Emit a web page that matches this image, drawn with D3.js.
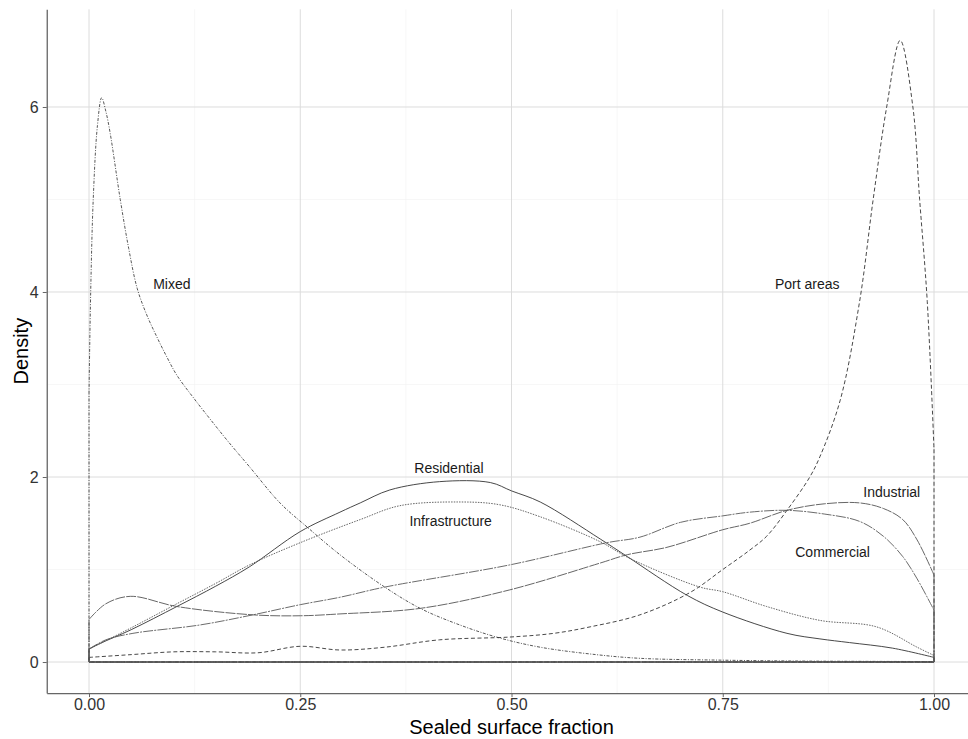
<!DOCTYPE html>
<html>
<head>
<meta charset="utf-8">
<script src="https://cdn.jsdelivr.net/npm/d3@7"></script>
<style>
  body { margin: 0; background: #fff; }
  svg { display: block; font-family: "Liberation Sans", Arial, sans-serif; }
</style>
</head>
<body>
<svg id="chart" width="968" height="739"></svg>
<script>
// ---- data ----
const xTicks = [0, 0.25, 0.5, 0.75, 1];
const xTickLabels = ["0.00", "0.25", "0.50", "0.75", "1.00"];
const yTicks = [0, 2, 4, 6];
const yTickLabels = ["0", "2", "4", "6"];

const mixedX = [0, 0.002, 0.005, 0.01, 0.015, 0.02, 0.025, 0.037, 0.047, 0.057, 0.068, 0.08, 0.092, 0.104, 0.125, 0.143, 0.165, 0.19, 0.226, 0.258, 0.297, 0.35, 0.392, 0.439, 0.486, 0.534, 0.6, 0.652, 0.75, 0.85, 1];
const mixedY = [2.9, 4.0, 5.0, 5.8, 6.1, 5.95, 5.72, 5.0, 4.47, 4.04, 3.76, 3.52, 3.3, 3.1, 2.84, 2.63, 2.38, 2.11, 1.72, 1.46, 1.16, 0.81, 0.58, 0.40, 0.26, 0.16, 0.08, 0.04, 0.02, 0.01, 0.005];

const portX = [0, 0.05, 0.1, 0.15, 0.2, 0.25, 0.297, 0.35, 0.415, 0.498, 0.55, 0.593, 0.652, 0.711, 0.75, 0.782, 0.802, 0.826, 0.853, 0.865, 0.889, 0.912, 0.928, 0.944, 0.96, 0.975, 0.983, 0.992, 1];
const portY = [0.05, 0.08, 0.11, 0.11, 0.10, 0.17, 0.13, 0.16, 0.24, 0.27, 0.31, 0.38, 0.51, 0.75, 1.0, 1.21, 1.36, 1.64, 2.0, 2.22, 2.83, 3.9, 5.0, 6.0, 6.72, 6.0, 5.0, 3.9, 2.3];

const residentialX = [0, 0.013, 0.05, 0.104, 0.15, 0.19, 0.25, 0.297, 0.321, 0.356, 0.415, 0.475, 0.5, 0.534, 0.605, 0.637, 0.708, 0.75, 0.826, 0.865, 0.9, 0.951, 1];
const residentialY = [0.14, 0.2, 0.35, 0.6, 0.82, 1.03, 1.41, 1.62, 1.72, 1.86, 1.95, 1.94, 1.85, 1.73, 1.33, 1.14, 0.72, 0.54, 0.31, 0.25, 0.21, 0.15, 0.05];

const infrastructureX = [0, 0.05, 0.104, 0.15, 0.19, 0.25, 0.321, 0.368, 0.439, 0.486, 0.534, 0.605, 0.64, 0.723, 0.75, 0.802, 0.865, 0.932, 0.98, 1];
const infrastructureY = [0.14, 0.37, 0.63, 0.85, 1.05, 1.29, 1.54, 1.69, 1.73, 1.70, 1.57, 1.30, 1.12, 0.81, 0.76, 0.60, 0.45, 0.38, 0.16, 0.07];

const industrialX = [0, 0.02, 0.049, 0.104, 0.194, 0.25, 0.297, 0.392, 0.498, 0.605, 0.637, 0.684, 0.75, 0.782, 0.826, 0.87, 0.912, 0.94, 0.963, 0.98, 1];
const industrialY = [0.46, 0.63, 0.71, 0.60, 0.51, 0.50, 0.52, 0.58, 0.78, 1.07, 1.16, 1.24, 1.43, 1.50, 1.64, 1.71, 1.72, 1.66, 1.54, 1.32, 0.94];

const commercialX = [0, 0.02, 0.052, 0.131, 0.194, 0.25, 0.297, 0.35, 0.498, 0.613, 0.652, 0.70, 0.75, 0.782, 0.826, 0.87, 0.912, 0.94, 0.963, 0.98, 1];
const commercialY = [0.14, 0.24, 0.31, 0.40, 0.51, 0.62, 0.70, 0.81, 1.05, 1.29, 1.35, 1.51, 1.58, 1.62, 1.64, 1.60, 1.52, 1.36, 1.14, 0.90, 0.56];

const seriesNames = ["Mixed", "Port areas", "Residential", "Infrastructure", "Industrial", "Commercial"];
const labelX = [0.098, 0.85, 0.426, 0.428, 0.95, 0.88];
const labelY = [4.09, 4.09, 2.1, 1.52, 1.84, 1.19];

// ---- layout ----
const svg = d3.select("#chart");
const x = d3.scaleLinear().domain([-0.05, 1.05]).range([46.75, 976.25]);
const y = d3.scaleLinear().domain([-0.336, 7.056]).range([693.1, 9.3]);

const styles = {
  "Mixed":          { dash: "3,1.5,1,1.5", color: "#444" },
  "Port areas":     { dash: "4,2.5",      color: "#333" },
  "Residential":    { dash: null,         color: "#333" },
  "Infrastructure": { dash: "1.5,1.2",    color: "#555" },
  "Industrial":     { dash: "10,1.2",     color: "#555" },
  "Commercial":     { dash: "10,1.2,2,1.2", color: "#5a5a5a" }
};

const series = [
  { name: "Mixed", xs: mixedX, ys: mixedY },
  { name: "Port areas", xs: portX, ys: portY },
  { name: "Residential", xs: residentialX, ys: residentialY },
  { name: "Infrastructure", xs: infrastructureX, ys: infrastructureY },
  { name: "Industrial", xs: industrialX, ys: industrialY },
  { name: "Commercial", xs: commercialX, ys: commercialY }
];

// grid
const g = svg.append("g");
const minorX = [0.125, 0.375, 0.625, 0.875];
const minorY = [1, 3, 5];
g.selectAll(".minx").data(minorX).join("line")
  .attr("x1", d => x(d)).attr("x2", d => x(d)).attr("y1", y.range()[1]).attr("y2", y.range()[0])
  .attr("stroke", "#f2f2f2").attr("stroke-width", 0.6);
g.selectAll(".miny").data(minorY).join("line")
  .attr("x1", x.range()[0]).attr("x2", x.range()[1]).attr("y1", d => y(d)).attr("y2", d => y(d))
  .attr("stroke", "#f2f2f2").attr("stroke-width", 0.6);
g.selectAll(".majx").data(xTicks).join("line")
  .attr("x1", d => x(d)).attr("x2", d => x(d)).attr("y1", y.range()[1]).attr("y2", y.range()[0])
  .attr("stroke", "#dcdcdc").attr("stroke-width", 1);
g.selectAll(".majy").data(yTicks).join("line")
  .attr("x1", x.range()[0]).attr("x2", x.range()[1]).attr("y1", d => y(d)).attr("y2", d => y(d))
  .attr("stroke", "#dcdcdc").attr("stroke-width", 1);

// curves
const curveLine = d3.line().x(d => x(d[0])).y(d => y(d[1])).curve(d3.curveCatmullRom.alpha(0.5));
const edgeLine = d3.line().x(d => x(d[0])).y(d => y(d[1]));

series.forEach(s => {
  const pts = s.xs.map((v, i) => [v, s.ys[i]]);
  const st = styles[s.name];
  const n = pts.length - 1;
  const edges = [[1, pts[n][1]], [1, 0], [0, 0], [0, pts[0][1]]];
  [curveLine(pts), edgeLine(edges)].forEach(dstr => {
    svg.append("path").attr("d", dstr)
      .attr("fill", "none").attr("stroke", st.color)
      .attr("stroke-width", 0.9)
      .attr("stroke-dasharray", st.dash);
  });
});

// axes
const xAxis = svg.append("g").attr("transform", `translate(0,${y.range()[0]})`)
  .call(d3.axisBottom(x).tickValues(xTicks).tickFormat((d, i) => xTickLabels[i]).tickSize(4).tickSizeOuter(0));
const yAxis = svg.append("g").attr("transform", `translate(${x.range()[0]},0)`)
  .call(d3.axisLeft(y).tickValues(yTicks).tickFormat((d, i) => yTickLabels[i]).tickSize(4).tickSizeOuter(0));
[xAxis, yAxis].forEach(a => {
  a.select(".domain").attr("stroke", "#666").attr("stroke-width", 1.3);
  a.selectAll(".tick line").attr("stroke", "#666").attr("stroke-width", 1);
  a.selectAll(".tick text").attr("fill", "#333").attr("font-size", 16)
    .attr("font-family", "'Liberation Sans', Arial, sans-serif");
});
xAxis.selectAll(".tick text").attr("dy", "0.71em").attr("y", 6);
yAxis.selectAll(".tick text").attr("x", -8);

// titles
svg.append("text").attr("x", (x.range()[0] + x.range()[1]) / 2).attr("y", 734)
  .attr("text-anchor", "middle").attr("font-size", 20).attr("fill", "#000")
  .text("Sealed surface fraction");
svg.append("text").attr("transform", `translate(28,${(y.range()[0] + y.range()[1]) / 2}) rotate(-90)`)
  .attr("text-anchor", "middle").attr("font-size", 20).attr("fill", "#000")
  .text("Density");

// labels
svg.selectAll(".lab").data(seriesNames).join("text")
  .attr("x", (d, i) => x(labelX[i])).attr("y", (d, i) => y(labelY[i]))
  .attr("dy", "0.35em").attr("text-anchor", "middle")
  .attr("font-size", 14).attr("fill", "#1a1a1a")
  .text(d => d);
</script>
</body>
</html>
